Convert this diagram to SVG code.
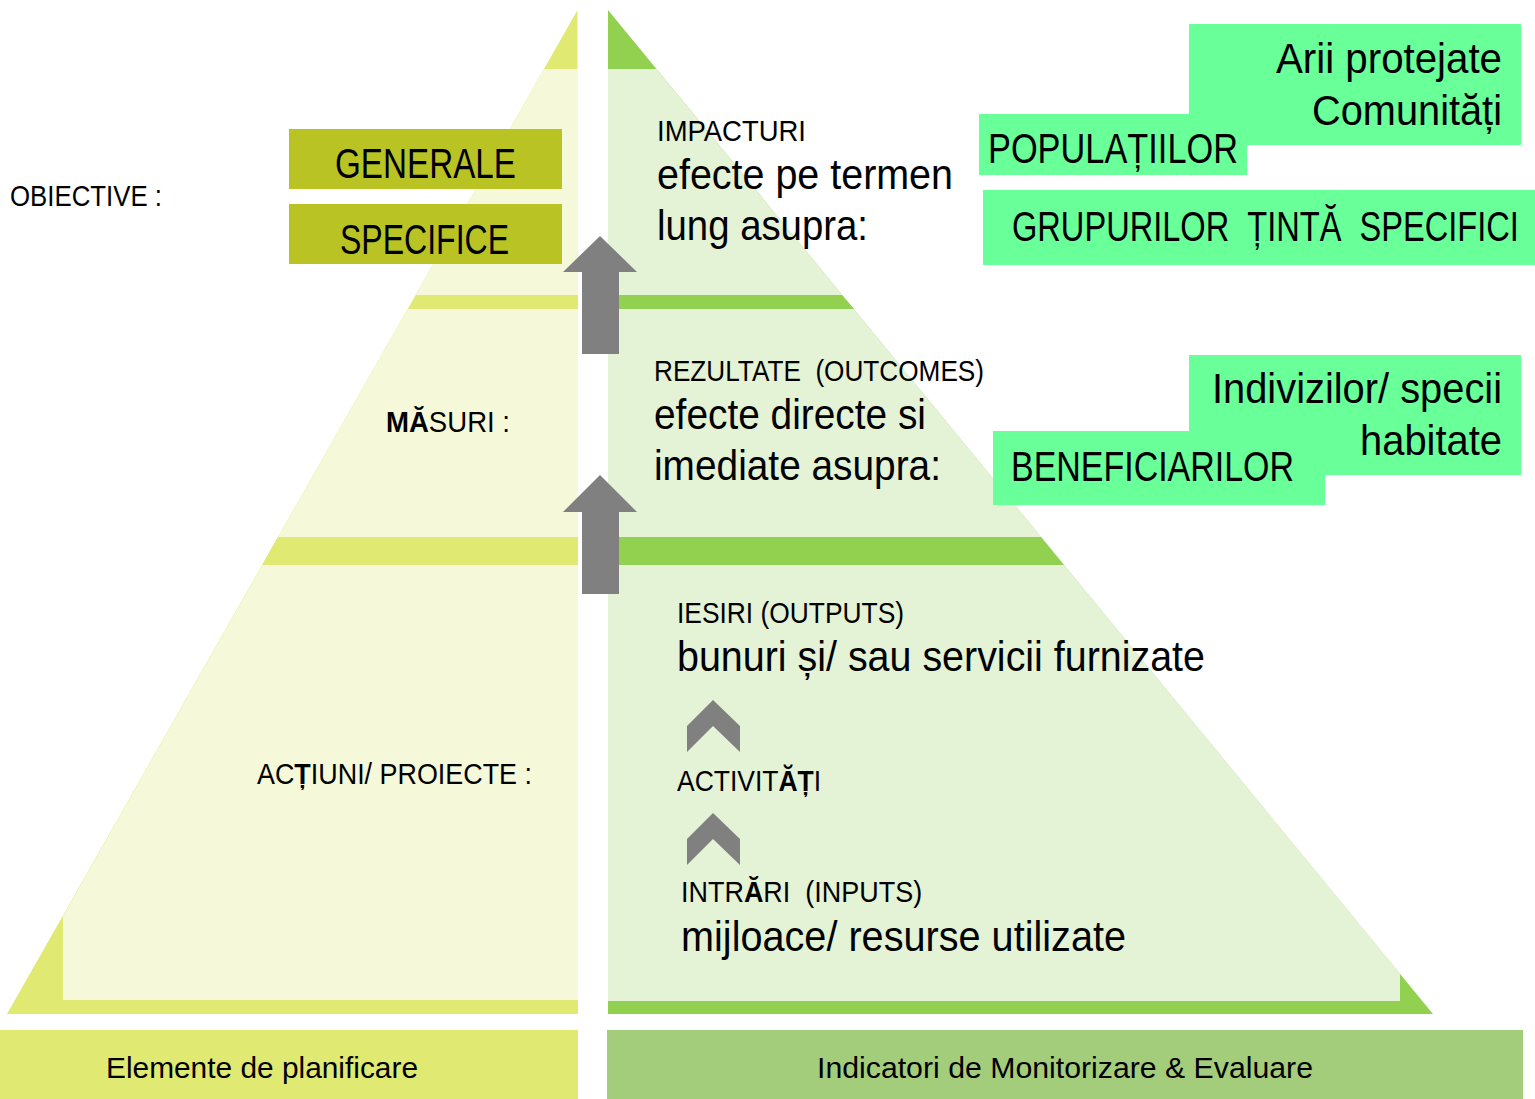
<svg xmlns="http://www.w3.org/2000/svg" width="1535" height="1099" viewBox="0 0 1535 1099">
<style>
  text { font-family: "Liberation Sans", Arial, sans-serif; fill: #000; white-space: pre; }
  .s { font-size: 30px; }
  .l { font-size: 42px; }
  .b { font-weight: bold; }
  .ly { fill: #e0e971; }
  .lyl { fill: #f5f9da; }
  .rg { fill: #92d050; }
  .rgl { fill: #e4f2d6; }
  .olive { fill: #b9c424; }
  .mint { fill: #69ff99; }
  .gray { fill: #808080; }
</style>

<g id="left-pyramid">
  <polygon class="ly" points="577.5,10 7,1014 578,1014"/>
  <polygon class="lyl" points="544,69 578,69 578,1000 63,1000 63,916"/>
  <polygon class="ly" points="416,295 578,295 578,309 408,309"/>
  <polygon class="ly" points="278,537 578,537 578,565 262,565"/>
</g>

<g id="right-pyramid">
  <polygon class="rg" points="608,10 1433,1014 608,1014"/>
  <polygon class="rgl" points="608,69 656.5,69 1400,973.5 1400,1001 608,1001"/>
  <polygon class="rg" points="608,295 842,295 854,309 608,309"/>
  <polygon class="rg" points="608,537 1041,537 1064,565 608,565"/>
</g>

<g id="legend-left">
  <rect class="ly" x="0" y="1030" width="578" height="69"/>
  <text class="s" x="106" y="1078" textLength="312" lengthAdjust="spacingAndGlyphs">Elemente de planificare</text>
</g>
<g id="legend-right">
  <rect fill="#a3cd7b" x="607" y="1030" width="916" height="69"/>
  <text class="s" x="817" y="1078" textLength="496" lengthAdjust="spacingAndGlyphs">Indicatori de Monitorizare &amp; Evaluare</text>
</g>

<g id="connectors">
  <polygon class="gray" points="600,236 637,272 619,272 619,354 582,354 582,272 563,272"/>
  <polygon class="gray" points="600,475 637,512 619,512 619,594 582,594 582,512 563,512"/>
  <polygon class="gray" points="713,700 740,726 740,752 713,726 687,752 687,726"/>
  <polygon class="gray" points="713,813 740,839 740,865 713,839 687,865 687,839"/>
</g>

<g id="objective">
  <text class="s" x="10" y="206" textLength="152" lengthAdjust="spacingAndGlyphs">OBIECTIVE :</text>
</g>
<g id="generale">
  <rect class="olive" x="289" y="129" width="273" height="60"/>
  <text class="l" x="335" y="178" textLength="181" lengthAdjust="spacingAndGlyphs">GENERALE</text>
</g>
<g id="specifice">
  <rect class="olive" x="289" y="204" width="273" height="60"/>
  <text class="l" x="340" y="254" textLength="169" lengthAdjust="spacingAndGlyphs">SPECIFICE</text>
</g>
<g id="masuri">
  <text class="s" transform="translate(386,432) scale(0.919,1)"><tspan class="b">MĂ</tspan>SURI :</text>
</g>
<g id="actiuni">
  <text class="s" transform="translate(257,784) scale(0.897,1)">AC<tspan class="b">Ț</tspan>IUNI/ PROIECTE :</text>
</g>

<g id="impacturi">
  <text class="s" x="657" y="141" textLength="149" lengthAdjust="spacingAndGlyphs">IMPACTURI</text>
  <text class="l" x="657" y="189" textLength="296" lengthAdjust="spacingAndGlyphs">efecte pe termen</text>
  <text class="l" x="657" y="240" textLength="211" lengthAdjust="spacingAndGlyphs">lung asupra:</text>
</g>
<g id="rezultate">
  <text class="s" x="654" y="381" textLength="330" lengthAdjust="spacingAndGlyphs">REZULTATE  (OUTCOMES)</text>
  <text class="l" x="654" y="429" textLength="272" lengthAdjust="spacingAndGlyphs">efecte directe si</text>
  <text class="l" x="654" y="480" textLength="287" lengthAdjust="spacingAndGlyphs">imediate asupra:</text>
</g>
<g id="iesiri">
  <text class="s" x="677" y="623" textLength="227" lengthAdjust="spacingAndGlyphs">IESIRI (OUTPUTS)</text>
  <text class="l" x="677" y="671" textLength="528" lengthAdjust="spacingAndGlyphs">bunuri și/ sau servicii furnizate</text>
</g>
<g id="activitati">
  <text class="s" transform="translate(677,791) scale(0.883,1)">ACTIVIT<tspan class="b">ĂȚ</tspan>I</text>
</g>
<g id="intrari">
  <text class="s" transform="translate(681,902) scale(0.899,1)">INTR<tspan class="b">Ă</tspan>RI  (INPUTS)</text>
  <text class="l" x="681" y="951" textLength="445" lengthAdjust="spacingAndGlyphs">mijloace/ resurse utilizate</text>
</g>

<g id="arii">
  <rect class="mint" x="1189" y="24" width="332" height="121"/>
  <text class="l" x="1276" y="73" textLength="226" lengthAdjust="spacingAndGlyphs">Arii protejate</text>
  <text class="l" x="1312" y="125" textLength="190" lengthAdjust="spacingAndGlyphs">Comunități</text>
</g>
<g id="populatiilor">
  <rect class="mint" x="979" y="114" width="268" height="61"/>
  <text class="l" x="988" y="163" textLength="250" lengthAdjust="spacingAndGlyphs">POPULAȚIILOR</text>
</g>
<g id="grupurilor">
  <rect class="mint" x="983" y="190" width="552" height="75"/>
  <text class="l" transform="translate(1012,241) scale(0.776,1)">GRUPURILOR  ȚINTĂ  SPECIFICI</text>
</g>
<g id="indivizilor">
  <rect class="mint" x="1189" y="355" width="332" height="120"/>
  <text class="l" x="1212" y="403" textLength="290" lengthAdjust="spacingAndGlyphs">Indivizilor/ specii</text>
  <text class="l" x="1360" y="455" textLength="142" lengthAdjust="spacingAndGlyphs">habitate</text>
</g>
<g id="beneficiarilor">
  <rect class="mint" x="993" y="431" width="332" height="74"/>
  <text class="l" x="1011" y="481" textLength="283" lengthAdjust="spacingAndGlyphs">BENEFICIARILOR</text>
</g>
</svg>
